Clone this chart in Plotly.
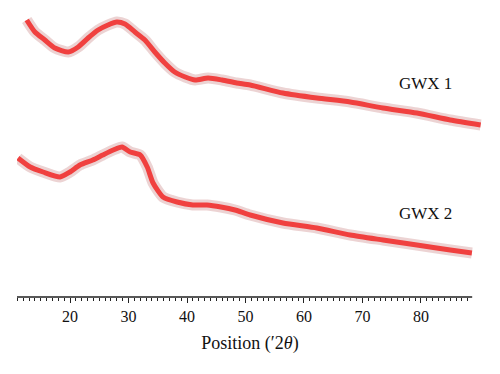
import plotly.graph_objects as go

# GWX 1 (upper pattern) - position (°2θ) and intensity (a.u.)
gwx1_pos = [12.6, 14.0, 15.7, 17.4, 19.7, 21.4, 23.1, 24.8, 26.5, 28.0, 29.4, 31.1, 32.8,
            34.5, 36.2, 37.9, 39.7, 41.4, 43.6, 46.0, 48.5, 50.8, 56.4, 62.2, 67.9, 73.5,
            79.3, 85.0, 90.2]
gwx1_int = [2770, 2650, 2570, 2490, 2450, 2500, 2590, 2670, 2720, 2750, 2730, 2650, 2570,
            2450, 2340, 2250, 2200, 2170, 2190, 2170, 2140, 2120, 2040, 1990, 1950, 1890,
            1840, 1770, 1720]

# GWX 2 (lower pattern)
gwx2_pos = [11.1, 13.2, 15.4, 18.3, 20.0, 21.7, 23.9, 25.6, 27.4, 28.9, 30.3, 32.0, 33.2,
            34.2, 35.9, 38.3, 41.0, 43.4, 45.8, 48.2, 50.8, 56.4, 62.2, 67.9, 73.5, 79.3,
            85.0, 88.7]
gwx2_int = [1390, 1300, 1250, 1200, 1250, 1320, 1370, 1420, 1470, 1500, 1450, 1420, 1300,
            1140, 1000, 950, 920, 920, 900, 870, 820, 740, 690, 620, 570, 520, 470, 440]

major_ticks = [20, 30, 40, 50, 60, 70, 80]
minor_ticks = list(range(11, 89))
labels = ["GWX 1", "GWX 2"]
label_pos = [(80.7, 2140), (80.7, 840)]

serif = "Liberation Serif, DejaVu Serif, serif"
fig = go.Figure()
for xs, ys in [(gwx1_pos, gwx1_int), (gwx2_pos, gwx2_int)]:
    fig.add_trace(go.Scatter(x=xs, y=ys, mode="lines",
                             line=dict(color="rgba(200,130,130,0.35)", width=11, shape="spline",
                                       smoothing=0.6),
                             hoverinfo="skip", showlegend=False))
    fig.add_trace(go.Scatter(x=xs, y=ys, mode="lines",
                             line=dict(color="#f0403f", width=5, shape="spline", smoothing=0.6),
                             showlegend=False))

for txt, (lx, ly) in zip(labels, label_pos):
    fig.add_annotation(x=lx, y=ly, text=txt, showarrow=False,
                       font=dict(family=serif, size=17, color="#111"),
                       xanchor="center", yanchor="middle")

fig.add_shape(type="line", xref="x", yref="paper", x0=10.94, x1=88.75, y0=0, y1=0,
              line=dict(color="#222", width=1.5))

fig.update_layout(
    width=492, height=366,
    margin=dict(l=9, r=17, t=0, b=77),
    paper_bgcolor="white", plot_bgcolor="white",
    xaxis=dict(range=[10.94, 90.6], showline=False, showgrid=False, zeroline=False,
               tickmode="array", tickvals=major_ticks,
               ticks="outside", ticklen=5, tickwidth=1.2, tickcolor="#222",
               tickfont=dict(family=serif, size=16, color="#111"),
               minor=dict(tickmode="array", tickvals=minor_ticks, ticks="outside",
                          ticklen=3, tickwidth=1, tickcolor="#222", showgrid=False),
               title=dict(text="Position (\u20322<i>\u03b8</i>)", standoff=12,
                          font=dict(family=serif, size=18, color="#111"))),
    yaxis=dict(range=[0, 2890], visible=False),
)

fig.write_html("out.html")
